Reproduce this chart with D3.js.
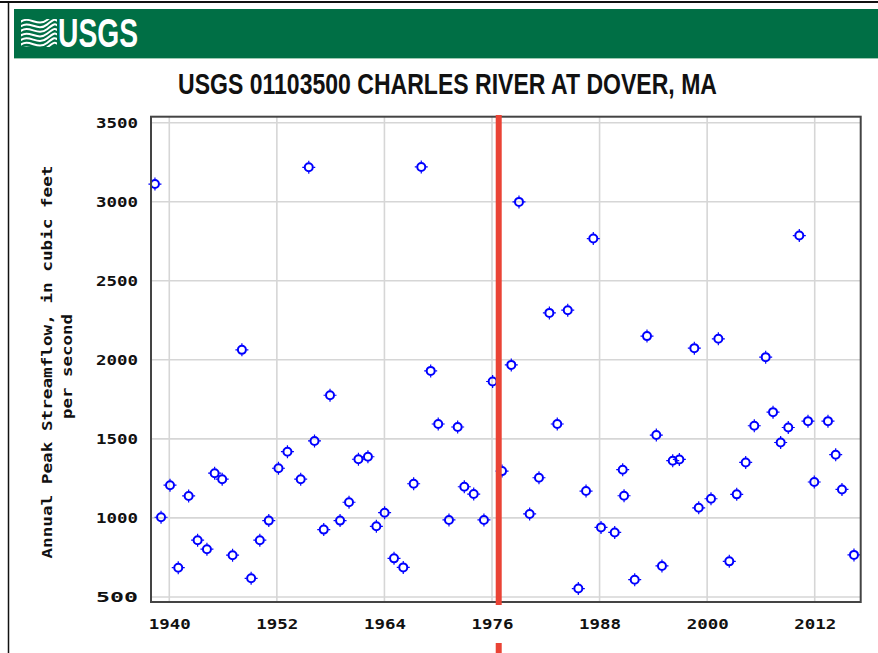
<!DOCTYPE html>
<html>
<head>
<meta charset="utf-8">
<script src="https://cdn.jsdelivr.net/npm/d3@7/dist/d3.min.js"></script>
<style>
  html, body { margin: 0; padding: 0; background: #fff; }
  svg { display: block; }
</style>
</head>
<body>
<svg id="chart" width="878" height="653"></svg>
<script>
// ---- data (peak dates as decimal years, peak flows in cfs) ----
const peakYears = [
  1938.40, 1939.08, 1940.08, 1941.00, 1942.16, 1943.16, 1944.20, 1945.06, 1945.90, 1947.06,
  1948.10, 1949.13, 1950.10, 1951.10, 1952.18, 1953.18, 1954.66, 1955.56, 1956.20, 1957.23,
  1957.93, 1959.05, 1960.05, 1961.10, 1962.16, 1963.10, 1964.02, 1965.07, 1966.10, 1967.26,
  1968.11, 1969.16, 1970.00, 1971.20, 1972.17, 1972.91, 1973.96, 1975.10, 1976.07, 1977.12,
  1978.15, 1979.01, 1980.20, 1981.24, 1982.40, 1983.28, 1984.45, 1985.63, 1986.49, 1987.30,
  1988.16, 1989.69, 1990.58, 1990.73, 1991.92, 1993.29, 1994.33, 1994.96, 1996.16, 1996.90,
  1998.57, 1999.06, 2000.43, 2001.25, 2002.47, 2003.30, 2004.30, 2005.26, 2006.53, 2007.35,
  2008.20, 2009.05, 2010.28, 2011.25, 2011.95, 2013.48, 2014.34, 2015.04, 2016.38
];
const peakFlows = [
  3112, 1004, 1207,  685, 1139,  859,  802, 1283, 1245,  764,
  2063,  618,  859,  983, 1314, 1419, 1245, 3218, 1487,  926,
  1776,  983, 1099, 1371, 1387,  947, 1033,  744,  687, 1216,
  3220, 1930, 1594,  987, 1575, 1197, 1151,  987, 1863, 1296,
  1968, 2999, 1025, 1254, 2297, 1594, 2314,  553, 1170, 2767,
   940,  908, 1305, 1140,  609, 2150, 1524,  696, 1362, 1370,
  2074, 1064, 1121, 2133,  725, 1149, 1351, 1583, 2017, 1669,
  1477, 1572, 2786, 1612, 1227, 1612, 1400, 1180,  766
];
const xTicks = [1940, 1952, 1964, 1976, 1988, 2000, 2012];
const yTicks = [500, 1000, 1500, 2000, 2500, 3000, 3500];
const xDomain = [1937.96, 2017.13];
const yDomain = [468, 3538];
const markerYear = 1976.75;
const titleText = "USGS 01103500 CHARLES RIVER AT DOVER, MA";
const logoText = "USGS";
const yLabelLines = ["Annual Peak Streamflow, in cubic feet", "per second"];

// ---- layout ----
const W = 878, H = 653;
const plot = { left: 151, right: 860.7, top: 116.7, bottom: 602 };
const monoFont = "'DejaVu Sans Mono', 'Liberation Mono', monospace";
const narrowFont = "'Liberation Sans Narrow', 'Liberation Sans', Arial, sans-serif";

const svg = d3.select("#chart");
svg.append("rect").attr("width", W).attr("height", H).attr("fill", "#fff");

// page frame
svg.append("line").attr("x1", 0).attr("x2", W).attr("y1", 2).attr("y2", 2)
  .attr("stroke", "#111").attr("stroke-width", 2);
svg.append("line").attr("x1", 8.5).attr("x2", 8.5).attr("y1", 2).attr("y2", H)
  .attr("stroke", "#111").attr("stroke-width", 1.5);

// banner
svg.append("rect").attr("x", 14).attr("y", 9).attr("width", W - 14).attr("height", 50)
  .attr("fill", "#006F45");
svg.append("line").attr("x1", 14).attr("x2", W).attr("y1", 58.5).attr("y2", 58.5)
  .attr("stroke", "#9cc9b2").attr("stroke-width", 1);

// logo waves icon
const logo = svg.append("g");
logo.append("clipPath").attr("id", "logoClip")
  .append("rect").attr("x", 21).attr("y", 19).attr("width", 36).attr("height", 28);
const waveG = logo.append("g").attr("clip-path", "url(#logoClip)");
for (let i = 0; i < 7; i++) {
  const y0 = 19 + i * 4.6;
  waveG.append("path")
    .attr("d", `M19,${y0 + 4} C29,${y0 - 5} 37,${y0 + 9} 47,${y0 + 1} S55,${y0 - 3} 59,${y0 - 2}`)
    .attr("fill", "none").attr("stroke", "#fff").attr("stroke-width", 2);
}
logo.append("text")
  .attr("x", 58).attr("y", 47)
  .attr("font-family", narrowFont).attr("font-weight", "bold")
  .attr("font-size", 40).attr("fill", "#fff")
  .attr("textLength", 80).attr("lengthAdjust", "spacingAndGlyphs")
  .text(logoText);

// title
svg.append("text")
  .attr("x", 447.5).attr("y", 94)
  .attr("text-anchor", "middle")
  .attr("font-family", narrowFont).attr("font-weight", "bold")
  .attr("font-size", 29).attr("fill", "#111")
  .attr("textLength", 539).attr("lengthAdjust", "spacingAndGlyphs")
  .text(titleText);

// scales
const x = d3.scaleLinear().domain(xDomain).range([plot.left, plot.right]);
const y = d3.scaleLinear().domain(yDomain).range([plot.bottom, plot.top]);

// grid
const grid = svg.append("g");
grid.selectAll("line.vx").data(xTicks).join("line")
  .attr("x1", d => x(d)).attr("x2", d => x(d))
  .attr("y1", plot.top).attr("y2", plot.bottom)
  .attr("stroke", "#d6d6d6").attr("stroke-width", 1.6);
grid.selectAll("line.hy").data(yTicks).join("line")
  .attr("x1", plot.left).attr("x2", plot.right)
  .attr("y1", d => y(d)).attr("y2", d => y(d))
  .attr("stroke", "#d6d6d6").attr("stroke-width", 1.6);

// axes
const yAxis = svg.append("g")
  .attr("transform", `translate(${plot.left},0)`)
  .call(d3.axisLeft(y).tickValues(yTicks).tickSize(0).tickPadding(13).tickFormat(d3.format("d")));
const xAxis = svg.append("g")
  .attr("transform", `translate(0,${plot.bottom})`)
  .call(d3.axisBottom(x).tickValues(xTicks).tickSize(0).tickPadding(17).tickFormat(d3.format("d")));
[yAxis, xAxis].forEach(g => {
  g.select(".domain").remove();
  g.selectAll("text")
    .attr("font-family", monoFont).attr("font-weight", "bold")
    .attr("font-size", 14).attr("fill", "#111")
    .attr("textLength", 42).attr("lengthAdjust", "spacingAndGlyphs");
});

// y label
const yLabelPos = [{ bx: 52.3, cy: 362 }, { bx: 72.3, cy: 366.5 }];
const yLabelLens = [393, 105];
yLabelLines.forEach((t, i) => {
  svg.append("text")
    .attr("transform", `translate(${yLabelPos[i].bx},${yLabelPos[i].cy}) rotate(-90)`)
    .attr("text-anchor", "middle")
    .attr("font-family", monoFont).attr("font-weight", "bold")
    .attr("font-size", 14).attr("fill", "#111")
    .attr("textLength", yLabelLens[i]).attr("lengthAdjust", "spacingAndGlyphs")
    .text(t);
});

// points
const pts = svg.append("g")
  .selectAll("g").data(peakYears.map((yr, i) => ({ yr, q: peakFlows[i] })))
  .join("g")
  .attr("transform", d => `translate(${x(d.yr)},${y(d.q)})`);
pts.append("path")
  .attr("d", "M0,-6.5V-4.5M0,4.5V6.5M-6.5,0H-4.5M4.5,0H6.5")
  .attr("stroke", "#0000ff").attr("stroke-width", 1.2);
pts.append("circle").attr("r", 4)
  .attr("fill", "none").attr("stroke", "#0000ff").attr("stroke-width", 2);

// plot frame
svg.append("rect")
  .attr("x", plot.left).attr("y", plot.top)
  .attr("width", plot.right - plot.left).attr("height", plot.bottom - plot.top)
  .attr("fill", "none").attr("stroke", "#444").attr("stroke-width", 2);

// red marker line (annotation)
svg.append("line")
  .attr("x1", x(markerYear)).attr("x2", x(markerYear))
  .attr("y1", 115).attr("y2", 605)
  .attr("stroke", "#ea4335").attr("stroke-width", 6);
svg.append("line")
  .attr("x1", x(markerYear)).attr("x2", x(markerYear))
  .attr("y1", 643).attr("y2", H)
  .attr("stroke", "#ea4335").attr("stroke-width", 6);
</script>
</body>
</html>
